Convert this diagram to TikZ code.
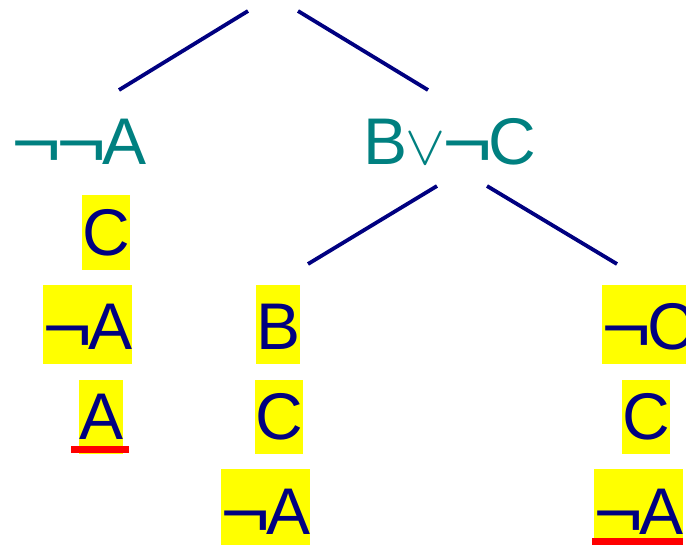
\documentclass[tikz,border=0pt]{standalone}
\usepackage{fontspec}
\setmainfont{Liberation Sans}
\usepackage{graphicx}
\definecolor{navy}{RGB}{0,0,128}
\definecolor{tealc}{RGB}{0,128,128}
\definecolor{hlyellow}{RGB}{255,255,0}
% widened negation sign with a fixed advance
\newcommand\ngsym{\makebox[45pt][l]{\hspace{-1pt}\raisebox{-2pt}{\scalebox{1.3}[1.05]{¬}}}}
% disjunction sign
\newcommand\orsym{\makebox[36pt][c]{\scalebox{6}[5.6]{\fontsize{10}{12}\selectfont$\vee$}}}
\begin{document}
\begin{tikzpicture}[x=1pt,y=-1pt,
  formula/.style={inner sep=0pt, anchor=base west, font=\fontsize{66}{66}\selectfont},
  root/.style={formula, text=tealc},
  hl/.style={formula, fill=hlyellow, text=navy, text depth=14pt},
  tallrow/.style={text height=65pt},
  shortrow/.style={text height=60pt},
  edge/.style={draw=navy, line width=3.8pt},
  closed/.style={draw=red, line width=7pt}]
\useasboundingbox (0,0) rectangle (686,545);

% branch heads
\node[root] (nnA) at (12,165) {\ngsym\ngsym A};
\node[root] (BoC) at (363,165) {B\orsym\ngsym C};

% left branch
\node[hl, text height=61pt] (lC) at (82,256) {C};
\node[hl, tallrow] (lnA) at (43,350) {\ngsym A};
\node[hl, shortrow] (lA) at (79,440) {A};

% middle branch
\node[hl, tallrow] (mB) at (256,350) {B};
\node[hl, shortrow] (mC) at (255,440) {C};
\node[hl, tallrow, text depth=11pt] (mnA) at (221,534) {\ngsym A};

% right branch
\node[hl, tallrow] (rnC) at (602,350) {\ngsym C};
\node[hl, shortrow] (rC) at (622,440) {C};
\node[hl, tallrow, text depth=11pt] (rnA) at (594,534) {\ngsym A};

% connector end points
\coordinate (top1) at (248,11);
\coordinate (top2) at (298,11);
\coordinate (nnAin) at (119,90);
\coordinate (BoCin) at (428,90);
\coordinate (BoCout1) at (437,186);
\coordinate (BoCout2) at (487,186);
\coordinate (mBin) at (308,264);
\coordinate (rnCin) at (617,264);

\draw[edge] (top1) -- (nnAin);
\draw[edge] (top2) -- (BoCin);
\draw[edge] (BoCout1) -- (mBin);
\draw[edge] (BoCout2) -- (rnCin);

% closed branches
\draw[closed] ([xshift=-8pt,yshift=-9.5pt]lA.base west) -- ([xshift=6pt,yshift=-9.5pt]lA.base east);
\draw[closed] ([xshift=-2pt,yshift=-7.5pt]rnA.base west) -- ([yshift=-7.5pt]rnA.base east);
\end{tikzpicture}
\end{document}
